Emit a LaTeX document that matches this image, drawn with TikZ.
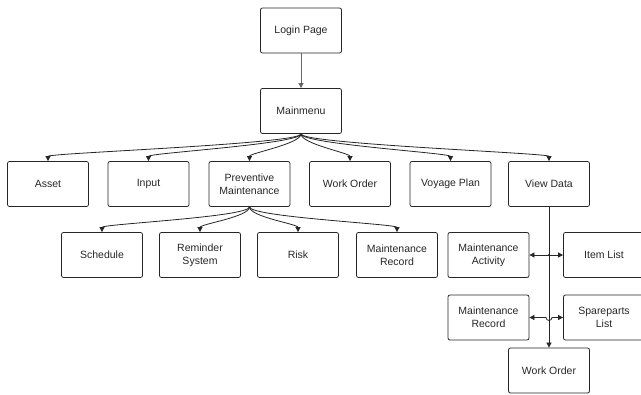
\documentclass[tikz,border=0pt]{standalone}
\usepackage{fontspec}
\setmainfont{Liberation Sans}
\usetikzlibrary{arrows.meta,calc}
\begin{document}
\begin{tikzpicture}[x=1pt,y=-1pt,
  box/.style={draw=black!85,line width=0.8pt,rounded corners=2pt,minimum width=81pt,minimum height=45pt,align=center,inner sep=1pt,font=\fontsize{10.5}{13}\selectfont,text=black!85},
  conn/.style={draw=black!85,line width=0.8pt,-{Triangle[length=5pt,width=5pt]}},
  dconn/.style={draw=black!85,line width=0.8pt,{Triangle[length=5pt,width=5pt]}-{Triangle[length=5pt,width=5pt]}}]
\useasboundingbox (0,0) rectangle (641,395);
\node[box] (login) at (301,30.5) {Login Page};
\node[box] (main) at (301,111) {Mainmenu};
\node[box] (asset) at (48,184) {Asset};
\node[box] (input) at (148.5,184) {Input};
\node[box] (pm) at (249.5,184) {Preventive\\Maintenance};
\node[box] (wo) at (350,184) {Work Order};
\node[box] (vp) at (450.5,184) {Voyage Plan};
\node[box] (vd) at (549,184) {View Data};
\node[box] (sched) at (102,255) {Schedule};
\node[box] (rem) at (200,255) {Reminder\\System};
\node[box] (risk) at (298,255) {Risk};
\node[box] (mrec) at (397,255) {Maintenance\\Record};
\node[box] (ma) at (488.5,255) {Maintenance\\Activity};
\node[box] (item) at (604,255) {Item List};
\node[box] (mr2) at (488.5,317.5) {Maintenance\\Record};
\node[box] (sp) at (604,317.5) {Spareparts\\List};
\node[box] (wo2) at (549,370.5) {Work Order};

\draw[conn,draw=black!60] (login) -- (main);
\foreach \t in {asset,input,pm,wo,vp,vd}{
  \draw[conn] (main.south) .. controls ($(main.south)+(0,10)$) and ($(\t.north)+(0,-8)$) .. (\t.north);
}
\foreach \t in {sched,rem,risk,mrec}{
  \draw[conn] (pm.south) .. controls ($(pm.south)+(0,10)$) and ($(\t.north)+(0,-8)$) .. (\t.north);
}
\draw[conn] (vd.south) -- (wo2.north);
\draw[dconn] (ma.east) -- (item.west);
\fill[black!85] (vd.south |- ma.east) circle (1.2pt);
\draw[dconn] (mr2.east) -- ($(vd.south |- mr2.east)+(-3,0)$) arc[start angle=180,end angle=0,radius=3] -- (sp.west);
\end{tikzpicture}
\end{document}
